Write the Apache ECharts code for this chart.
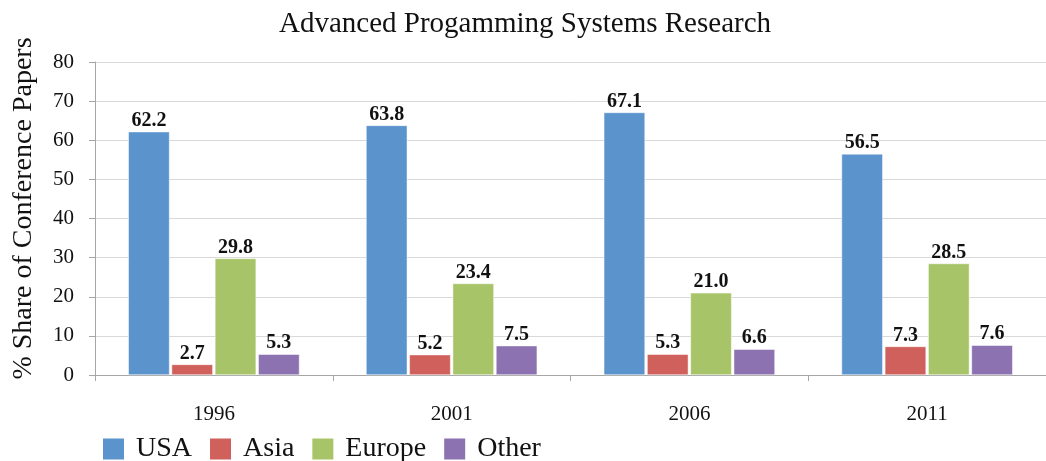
<!DOCTYPE html>
<html>
<head>
<meta charset="utf-8">
<script src="https://cdn.jsdelivr.net/npm/echarts@6/dist/echarts.min.js"></script>
<style>
html,body{margin:0;padding:0;background:#fff;}
#c1{width:1046px;height:461px;}
</style>
</head>
<body>
<div id="c1"></div>
<script>
var years = ['1996', '2001', '2006', '2011'];
var usa = [62.2, 63.8, 67.1, 56.5];
var asia = [2.7, 5.2, 5.3, 7.3];
var europe = [29.8, 23.4, 21.0, 28.5];
var other = [5.3, 7.5, 6.6, 7.6];
var yTicks = [0, 10, 20, 30, 40, 50, 60, 70, 80];

var serif = '"Liberation Serif", "DejaVu Serif", serif';
var chart = echarts.init(document.getElementById('c1'));

function mk(name, data, color) {
   return {
      name: name,
      type: 'bar',
      data: data,
      barGap: '5%',
      barCategoryGap: '28%',
      itemStyle: {color: color, borderColor: '#fff', borderWidth: 0.5},
      label: {
         show: true,
         position: 'top',
         distance: 1,
         fontFamily: serif,
         fontWeight: 'bold',
         fontSize: 20,
         color: '#111',
         formatter: function (p) { return p.value.toFixed(1); }
      }
   };
}

var option = {
   animation: false,
   title: {
      text: 'Advanced Progamming Systems Research',
      left: 520,
      textAlign: 'center',
      top: 5,
      textStyle: {fontFamily: serif, fontWeight: 'normal', fontSize: 29, color: '#111'}
   },
   legend: {
      left: 96,
      top: 430,
      itemWidth: 23,
      itemHeight: 23,
      itemGap: 16,
      icon: 'rect',
      textStyle: {fontFamily: serif, fontSize: 28, color: '#111', padding: [0, 0, 0, 6]},
      data: ['USA', 'Asia', 'Europe', 'Other']
   },
   grid: {left: 95, top: 62, width: 964, height: 313, containLabel: false},
   xAxis: {
      type: 'category',
      data: years,
      axisLine: {lineStyle: {color: '#a6a6a6'}},
      axisTick: {show: true, length: 6, lineStyle: {color: '#a6a6a6'}},
      axisLabel: {fontFamily: serif, fontSize: 21, color: '#111', margin: 29}
   },
   yAxis: {
      type: 'value',
      min: yTicks[0],
      max: yTicks[yTicks.length - 1],
      interval: 10,
      name: '% Share of Conference Papers',
      nameLocation: 'middle',
      nameGap: 57,
      nameTextStyle: {fontFamily: serif, fontSize: 28, color: '#111', padding: [0, 0, 0, 20]},
      axisLine: {show: true, lineStyle: {color: '#a6a6a6'}},
      axisTick: {show: true, length: 6, lineStyle: {color: '#a6a6a6'}},
      axisLabel: {fontFamily: serif, fontSize: 21, color: '#111', margin: 21},
      splitLine: {lineStyle: {color: '#d9d9d9'}}
   },
   series: [
      mk('USA', usa, '#5b93cc'),
      mk('Asia', asia, '#d0605b'),
      mk('Europe', europe, '#a8c468'),
      mk('Other', other, '#8c72b0')
   ]
};
chart.setOption(option);
</script>
</body>
</html>
